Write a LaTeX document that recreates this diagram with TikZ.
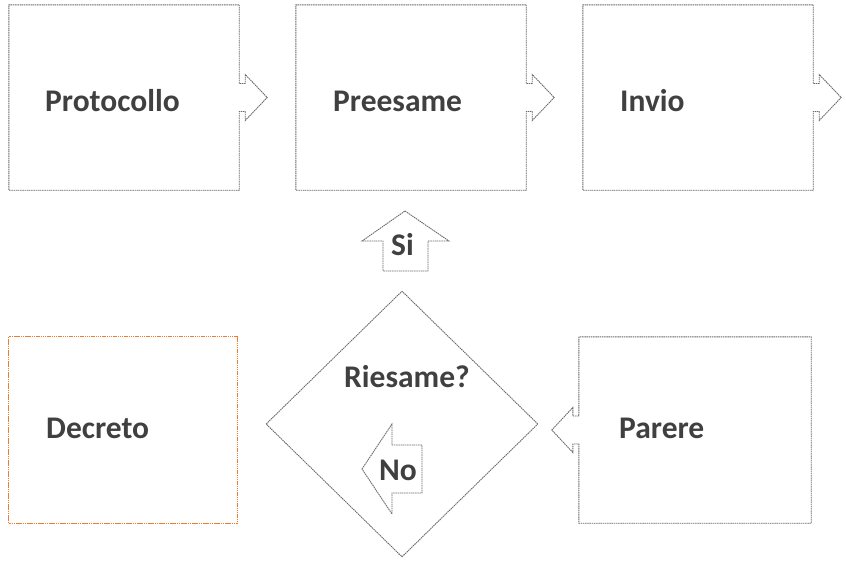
\documentclass[tikz,border=0pt]{standalone}
\usepackage{fontspec}
\setmainfont{Carlito}
\usetikzlibrary{shapes.geometric}
\definecolor{txt}{HTML}{404040}
\definecolor{ln}{HTML}{6A6A6A}
\definecolor{org}{HTML}{ED7D31}
\tikzset{
  outl/.style={draw=ln, line width=0.9pt, dash pattern=on 1.5pt off 0.7pt, line join=miter},
  orgl/.style={draw=org, line width=0.9pt, dash pattern=on 1.5pt off 0.7pt},
  boxarea/.style={rectangle, draw=none, inner sep=0pt, minimum width=230pt, minimum height=185pt},
  lbl/.style={anchor=base west, inner sep=0pt, text=txt, font=\fontsize{31.5}{36}\selectfont\bfseries},
}
\newcommand\rightnotchbox[1]{%
  \draw[outl] (#1.north east) -- ([yshift=14pt]#1.east) -- ++(6,0) -- ++(0,-9)
    -- ++(22,23) -- ++(-22,23) -- ++(0,-9) -- ++(-6,0)
    -- (#1.south east) -- (#1.south west) -- (#1.north west) -- cycle;}
\newcommand\leftnotchbox[1]{%
  \draw[outl] (#1.north west) -- ([yshift=14pt]#1.west) -- ++(-6,0) -- ++(0,-8.5)
    -- ++(-21,22.5) -- ++(21,22.5) -- ++(0,-8.5) -- ++(6,0)
    -- (#1.south west) -- (#1.south east) -- (#1.north east) -- cycle;}
\begin{document}
\begin{tikzpicture}[x=1pt,y=-1pt]
\useasboundingbox (0,0) rectangle (846,563);
% top row
\node[boxarea] (proto) at (124,97.5) {};
\node[boxarea] (pre) at (411,97.5) {};
\node[boxarea] (invio) at (698,97.5) {};
\rightnotchbox{proto}
\rightnotchbox{pre}
\rightnotchbox{invio}
\node[lbl] (tproto) at (45,111) {Protocollo};
\node[lbl] (tpre) at (333,111) {Preesame};
\node[lbl] (tinvio) at (620,111) {Invio};
% Si arrow
\coordinate (sitip) at (405,211);
\draw[outl] (sitip) -- (449,241) -- (428,241) -- (428,271) -- (383,271) -- (383,241) -- (362,241) -- cycle;
\node[lbl] (tsi) at (391,255) {Si};
% bottom row
\node[boxarea, minimum width=228pt, minimum height=186pt] (decreto) at (123,430) {};
\draw[orgl] (decreto.north west) rectangle (decreto.south east);
\node[lbl] (tdecreto) at (46,438) {Decreto};
\node[boxarea, minimum width=232pt, minimum height=186pt] (parere) at (695,430) {};
\leftnotchbox{parere}
\node[lbl] (tparere) at (619,438) {Parere};
% diamond
\node[diamond, draw=ln, line width=0.9pt, dash pattern=on 1.5pt off 0.7pt, inner sep=0pt,
      minimum width=272pt, minimum height=266pt] (riesame) at (402,424) {};
\node[lbl] (triesame) at (344,387) {Riesame?};
% No arrow
\coordinate (notip) at (362,469);
\draw[outl] (notip) -- (392,424) -- (392,445) -- (422,445) -- (422,493) -- (392,493) -- (392,514) -- cycle;
\node[lbl] (tno) at (379,480) {No};
\end{tikzpicture}
\end{document}
